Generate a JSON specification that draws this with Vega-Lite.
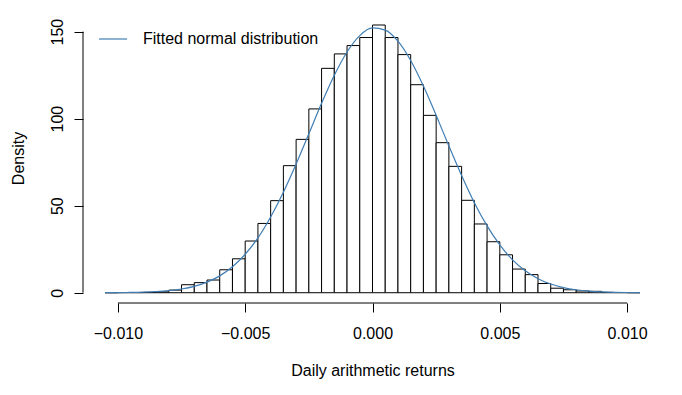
{
  "$schema": "https://vega.github.io/schema/vega-lite/v6.json",
  "width": 579,
  "height": 290,
  "autosize": {"type": "none"},
  "padding": {"left": 83, "top": 13, "right": 20, "bottom": 92},
  "background": "white",
  "config": {
    "view": {"stroke": null},
    "font": "Liberation Sans",
    "axis": {
      "labelFont": "Liberation Sans",
      "labelFontSize": 16,
      "labelColor": "black",
      "titleFont": "Liberation Sans",
      "titleFontSize": 16,
      "titleFontWeight": "normal",
      "titleColor": "black",
      "tickColor": "black",
      "tickSize": 9,
      "tickWidth": 1,
      "domain": false,
      "grid": false
    },
    "legend": {
      "labelFont": "Liberation Sans",
      "labelFontSize": 16,
      "labelColor": "black",
      "labelLimit": 400
    }
  },
  "datasets": {
    "bins": [
      {"start": -0.0105, "end": -0.0100, "density": 0},
      {"start": -0.0100, "end": -0.0095, "density": 0.1},
      {"start": -0.0095, "end": -0.0090, "density": 0.1},
      {"start": -0.0090, "end": -0.0085, "density": 0.2},
      {"start": -0.0085, "end": -0.0080, "density": 0.5},
      {"start": -0.0080, "end": -0.0075, "density": 1.5},
      {"start": -0.0075, "end": -0.0070, "density": 4.6},
      {"start": -0.0070, "end": -0.0065, "density": 5.8},
      {"start": -0.0065, "end": -0.0060, "density": 7.3},
      {"start": -0.0060, "end": -0.0055, "density": 13.2},
      {"start": -0.0055, "end": -0.0050, "density": 19.5},
      {"start": -0.0050, "end": -0.0045, "density": 29.7},
      {"start": -0.0045, "end": -0.0040, "density": 39.8},
      {"start": -0.0040, "end": -0.0035, "density": 52.9},
      {"start": -0.0035, "end": -0.0030, "density": 73.0},
      {"start": -0.0030, "end": -0.0025, "density": 88.1},
      {"start": -0.0025, "end": -0.0020, "density": 105.6},
      {"start": -0.0020, "end": -0.0015, "density": 128.9},
      {"start": -0.0015, "end": -0.0010, "density": 137.2},
      {"start": -0.0010, "end": -0.0005, "density": 142.0},
      {"start": -0.0005, "end": 0.0000, "density": 146.6},
      {"start": 0.0000, "end": 0.0005, "density": 153.8},
      {"start": 0.0005, "end": 0.0010, "density": 146.6},
      {"start": 0.0010, "end": 0.0015, "density": 136.8},
      {"start": 0.0015, "end": 0.0020, "density": 119.5},
      {"start": 0.0020, "end": 0.0025, "density": 101.9},
      {"start": 0.0025, "end": 0.0030, "density": 86.2},
      {"start": 0.0030, "end": 0.0035, "density": 72.6},
      {"start": 0.0035, "end": 0.0040, "density": 53.1},
      {"start": 0.0040, "end": 0.0045, "density": 39.5},
      {"start": 0.0045, "end": 0.0050, "density": 29.3},
      {"start": 0.0050, "end": 0.0055, "density": 21.8},
      {"start": 0.0055, "end": 0.0060, "density": 13.6},
      {"start": 0.0060, "end": 0.0065, "density": 10.4},
      {"start": 0.0065, "end": 0.0070, "density": 5.3},
      {"start": 0.0070, "end": 0.0075, "density": 2.6},
      {"start": 0.0075, "end": 0.0080, "density": 1.7},
      {"start": 0.0080, "end": 0.0085, "density": 1.0},
      {"start": 0.0085, "end": 0.0090, "density": 0.8},
      {"start": 0.0090, "end": 0.0095, "density": 0.2},
      {"start": 0.0095, "end": 0.0100, "density": 0.1},
      {"start": 0.0100, "end": 0.0105, "density": 0}
    ],
    "curve": [
      {"x": -0.0105, "y": 0.04}, {"x": -0.0100, "y": 0.08}, {"x": -0.0095, "y": 0.17},
      {"x": -0.0090, "y": 0.34}, {"x": -0.0085, "y": 0.65}, {"x": -0.0080, "y": 1.21},
      {"x": -0.0075, "y": 2.14}, {"x": -0.0070, "y": 3.68}, {"x": -0.0065, "y": 6.08},
      {"x": -0.0060, "y": 9.69}, {"x": -0.0055, "y": 14.9}, {"x": -0.0050, "y": 22.1},
      {"x": -0.0045, "y": 31.5}, {"x": -0.0040, "y": 43.5}, {"x": -0.0035, "y": 57.7},
      {"x": -0.0030, "y": 73.9}, {"x": -0.0025, "y": 91.3}, {"x": -0.0020, "y": 108.8},
      {"x": -0.0015, "y": 124.9}, {"x": -0.0010, "y": 138.3}, {"x": -0.0005, "y": 147.7},
      {"x": 0.0000, "y": 152.1}, {"x": 0.0005, "y": 150.9}, {"x": 0.0010, "y": 144.5},
      {"x": 0.0015, "y": 133.4}, {"x": 0.0020, "y": 118.7}, {"x": 0.0025, "y": 101.9},
      {"x": 0.0030, "y": 84.3}, {"x": 0.0035, "y": 67.3}, {"x": 0.0040, "y": 51.7},
      {"x": 0.0045, "y": 38.4}, {"x": 0.0050, "y": 27.5}, {"x": 0.0055, "y": 18.9},
      {"x": 0.0060, "y": 12.6}, {"x": 0.0065, "y": 8.08}, {"x": 0.0070, "y": 4.99},
      {"x": 0.0075, "y": 2.98}, {"x": 0.0080, "y": 1.71}, {"x": 0.0085, "y": 0.95},
      {"x": 0.0090, "y": 0.51}, {"x": 0.0095, "y": 0.26}, {"x": 0.0100, "y": 0.13},
      {"x": 0.0105, "y": 0.06}
    ]
  },
  "layer": [
    {
      "data": {"name": "bins"},
      "mark": {"type": "rect", "fill": "white", "stroke": "black", "strokeWidth": 1},
      "encoding": {
        "x": {
          "field": "start", "type": "quantitative",
          "scale": {"domain": [-0.01137, 0.01137], "nice": false, "zero": false},
          "axis": {
            "title": "Daily arithmetic returns",
            "values": [-0.01, -0.005, 0, 0.005, 0.01],
            "format": ".3f",
            "labelPadding": 13,
            "titlePadding": 21,
            "labelFlush": false,
            "labelOverlap": false
          }
        },
        "x2": {"field": "end"},
        "y": {
          "field": "density", "type": "quantitative",
          "scale": {"domain": [-5.9, 160.7], "nice": false, "zero": false},
          "axis": {
            "title": "Density",
            "values": [0, 50, 100, 150],
            "labelAngle": -90,
            "labelAlign": "center",
            "labelBaseline": "bottom",
            "labelPadding": 9,
            "titlePadding": 23,
            "labelFlush": false,
            "labelOverlap": false
          }
        },
        "y2": {"datum": 0}
      }
    },
    {
      "data": {"name": "curve"},
      "mark": {"type": "line", "strokeWidth": 1.2, "interpolate": "monotone"},
      "encoding": {
        "x": {"field": "x", "type": "quantitative"},
        "y": {"field": "y", "type": "quantitative"},
        "color": {
          "datum": "Fitted normal distribution",
          "type": "nominal",
          "scale": {"domain": ["Fitted normal distribution"], "range": ["#3f7db3"]},
          "legend": {
            "title": null,
            "orient": "none",
            "legendX": 15,
            "legendY": 11,
            "padding": 0,
            "symbolType": "stroke",
            "symbolSize": 784,
            "symbolStrokeWidth": 1.2,
            "labelOffset": 15,
            "labelLimit": 400
          }
        }
      }
    },
    {
      "data": {"values": [{"a": -0.01, "b": 0.01}]},
      "mark": {"type": "rule", "color": "black", "strokeWidth": 1},
      "encoding": {
        "x": {"field": "a", "type": "quantitative"},
        "x2": {"field": "b"},
        "y": {"datum": -5.9}
      }
    },
    {
      "data": {"values": [{"a": 0, "b": 150}]},
      "mark": {"type": "rule", "color": "black", "strokeWidth": 1},
      "encoding": {
        "y": {"field": "a", "type": "quantitative"},
        "y2": {"field": "b"},
        "x": {"datum": -0.01137}
      }
    }
  ]
}
